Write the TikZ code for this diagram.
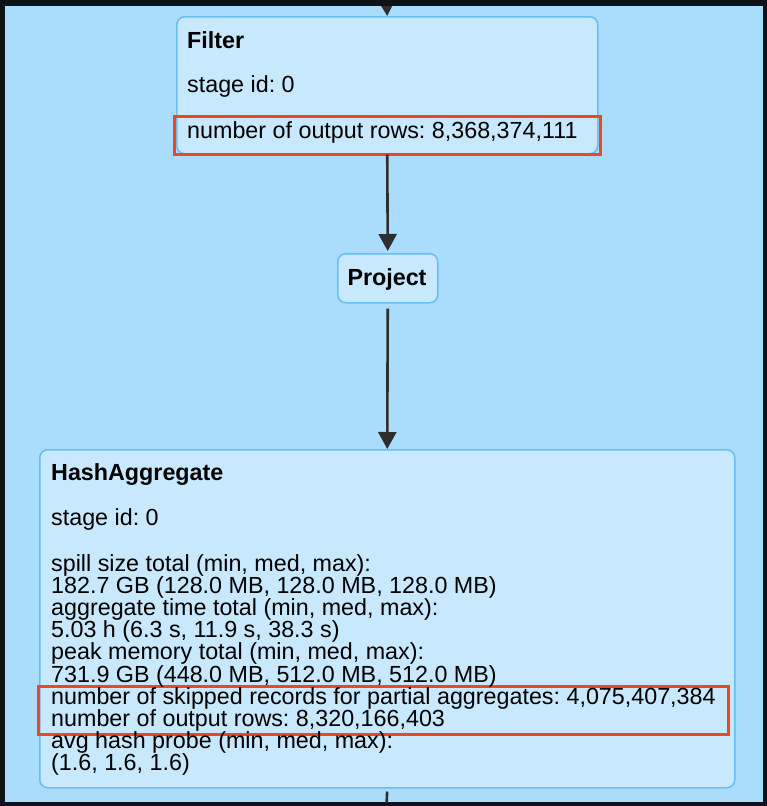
\documentclass[tikz,border=0pt]{standalone}
\usepackage{fontspec}
\setmainfont{Liberation Sans}
\usetikzlibrary{arrows.meta}
\definecolor{frameDark}{HTML}{0F1119}
\definecolor{bgBlue}{HTML}{AADCFB}
\definecolor{nodeFill}{HTML}{C8E8FD}
\definecolor{nodeLine}{HTML}{68BDF3}
\definecolor{hiRed}{HTML}{EC4622}
\definecolor{arrowGray}{HTML}{2E2E2E}
\frenchspacing
\begin{document}
\begin{tikzpicture}[x=1pt,y=-1pt,
  font=\fontsize{23.3}{22.2}\selectfont,
  opbox/.style={draw=nodeLine, fill=nodeFill, line width=1.5pt, rounded corners=8pt,
    inner sep=0pt, anchor=north west},
  hilite/.style={draw=hiRed, line width=3pt, inner sep=0pt, anchor=north west, fill=none},
  txt/.style={anchor=base west, inner sep=0pt, text=black},
  flow/.style={draw=arrowGray, line width=2.6pt, -{Triangle[width=18pt,length=17pt]}},
  tail/.style={draw=arrowGray, line width=2.6pt}
]
\useasboundingbox (0,0) rectangle (767,806);
\fill[frameDark] (0,0) rectangle (767,806);
\fill[bgBlue] (5,6) rectangle (763,802);

% boxes
\node[opbox, minimum width=421pt, minimum height=137pt] (filter) at (176,16) {};
\node[opbox, minimum width=100pt, minimum height=49pt] (project) at (337,253) {};
\node[txt, anchor=base, font=\fontsize{23.3}{22.2}\selectfont\bfseries] (projecttxt) at (387,285) {Project};
\node[opbox, minimum width=695pt, minimum height=338pt] (hash) at (39,449) {};

% highlight frames
\node[hilite, minimum width=426pt, minimum height=38pt] (hiA) at (173,115) {};
\node[hilite, minimum width=690pt, minimum height=48pt] (hiB) at (37,685) {};

% Filter text
\node[txt, font=\fontsize{23.3}{22.2}\selectfont\bfseries] (ft) at (187,48) {Filter};
\node[txt] (fs) at (187,92) {stage id: 0};
\node[txt] (fr) at (187,138) {number of output rows: 8,368,374,111};

% HashAggregate text
\node[txt, font=\fontsize{23.3}{22.2}\selectfont\bfseries] (ht) at (51,480) {HashAggregate};
\node[txt] (hs) at (51,525) {stage id: 0};
\node[txt] (h1) at (51,571) {spill size total (min, med, max):};
\node[txt] (h2) at (51,593.2) {182.7 GB (128.0 MB, 128.0 MB, 128.0 MB)};
\node[txt] (h3) at (51,615.4) {aggregate time total (min, med, max):};
\node[txt] (h4) at (51,637.6) {5.03 h (6.3 s, 11.9 s, 38.3 s)};
\node[txt] (h5) at (51,659.8) {peak memory total (min, med, max):};
\node[txt] (h6) at (51,682) {731.9 GB (448.0 MB, 512.0 MB, 512.0 MB)};
\node[txt] (h7) at (51,704.2) {number of skipped records for partial aggregates: 4,075,407,384};
\node[txt] (h8) at (51,726.4) {number of output rows: 8,320,166,403};
\node[txt] (h9) at (51,748.6) {avg hash probe (min, med, max):};
\node[txt] (h10) at (51,770.8) {(1.6, 1.6, 1.6)};

% connectors
\coordinate (topin) at (386.5,0);
\coordinate (botout) at (386.5,806);
\begin{scope}
  \clip (5,6) rectangle (763,802);
  \draw[flow] (topin) -- (filter.north);
  \draw[tail, shorten <=3pt] (hash.south) -- (botout);
\end{scope}
\draw[flow, shorten >=2pt] (filter.south) -- (project.north);
\draw[flow, shorten <=5pt] (project.south) -- (hash.north);
\end{tikzpicture}
\end{document}
